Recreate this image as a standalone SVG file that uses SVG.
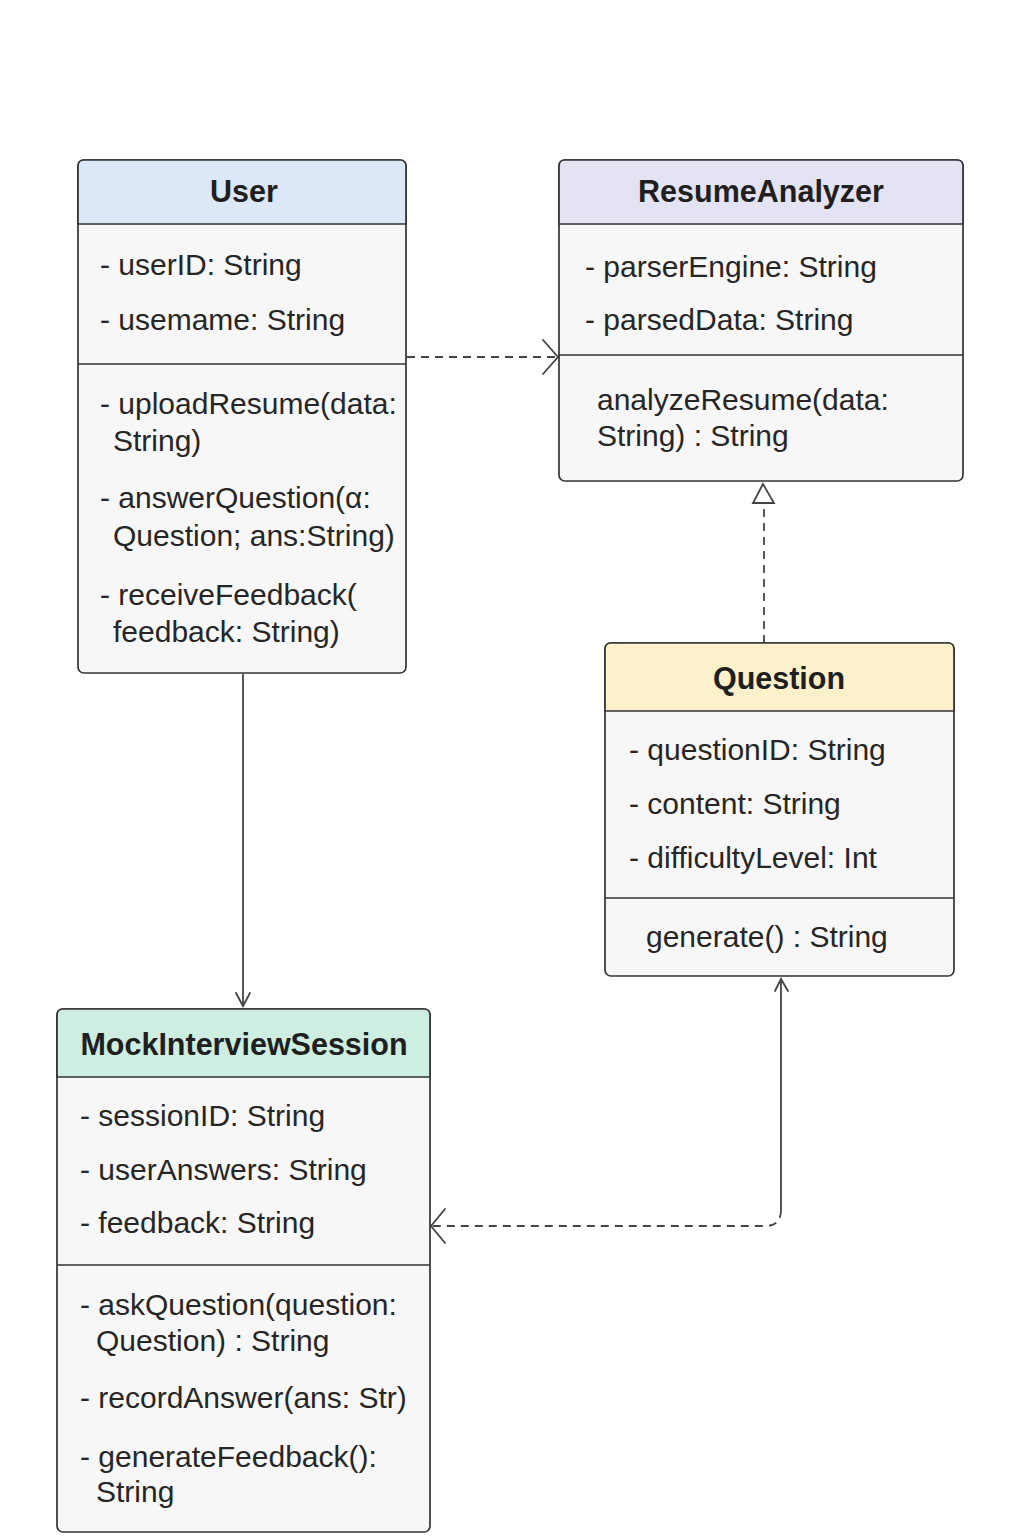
<svg xmlns="http://www.w3.org/2000/svg" width="1024" height="1536" viewBox="0 0 1024 1536">
<style>
.box{fill:#f7f7f7;stroke:#333;stroke-width:1.7}
.div{stroke:#333;stroke-width:1.6;fill:none}
.t{font-family:"Liberation Sans",Arial,sans-serif;font-size:30px;fill:#262626}
.h{font-family:"Liberation Sans",Arial,sans-serif;font-size:30.5px;font-weight:bold;fill:#1f1f1f;text-anchor:middle}
.ln{stroke:#444;stroke-width:1.8;fill:none}
.dash{stroke-dasharray:8 6}
.ah{stroke:#444;stroke-width:1.8;fill:none;stroke-linecap:round}
</style>
<rect width="1024" height="1536" fill="#ffffff"/>

<g id="connectors">
  <!-- User -> ResumeAnalyzer (dependency) -->
  <path class="ln dash" d="M407,357 H557"/>
  <path class="ah" d="M543,340 L558,357 L543,374"/>
  <!-- Question -> ResumeAnalyzer (realization) -->
  <path class="ln dash" d="M764,643 V504"/>
  <path d="M763,484 L753,503 L774,503 Z" fill="#ffffff" stroke="#444" stroke-width="1.8"/>
  <!-- User -> MockInterviewSession -->
  <path class="ln" d="M243,674 V1006"/>
  <path class="ah" d="M236,993 L243,1006 L250,993"/>
  <!-- MockInterviewSession <-> Question -->
  <path class="ln" d="M781,979 V1210"/>
  <path class="ah" d="M775,991 L781,979 L788,991"/>
  <path class="ln dash" d="M781,1210 Q781,1226 765,1226 H432"/>
  <path class="ah" d="M445,1209 L431,1226 L445,1243"/>
</g>

<g id="User">
  <rect class="box" x="78" y="160" width="328" height="513" rx="6"/>
  <path d="M84,160 H400 Q406,160 406,166 V224 H78 V166 Q78,160 84,160 Z" fill="#dce8f8" stroke="#333" stroke-width="1.7"/>
  <path class="div" d="M78,364 H406"/>
  <text class="h" x="244" y="202">User</text>
  <text class="t" x="100" y="275">- userID: String</text>
  <text class="t" x="100" y="330">- usemame: String</text>
  <text class="t" x="100" y="414">- uploadResume(data:</text>
  <text class="t" x="113" y="451">String)</text>
  <text class="t" x="100" y="508">- answerQuestion(α:</text>
  <text class="t" x="113" y="546">Question; ans:String)</text>
  <text class="t" x="100" y="605">- receiveFeedback(</text>
  <text class="t" x="113" y="642">feedback: String)</text>
</g>

<g id="ResumeAnalyzer">
  <rect class="box" x="559" y="160" width="404" height="321" rx="6"/>
  <path d="M565,160 H957 Q963,160 963,166 V224 H559 V166 Q559,160 565,160 Z" fill="#e4e3f3" stroke="#333" stroke-width="1.7"/>
  <path class="div" d="M559,355 H963"/>
  <text class="h" x="761" y="202">ResumeAnalyzer</text>
  <text class="t" x="585" y="277">- parserEngine: String</text>
  <text class="t" x="585" y="330">- parsedData: String</text>
  <text class="t" x="597" y="410">analyzeResume(data:</text>
  <text class="t" x="597" y="446">String) : String</text>
</g>

<g id="Question">
  <rect class="box" x="605" y="643" width="349" height="333" rx="6"/>
  <path d="M611,643 H948 Q954,643 954,649 V711 H605 V649 Q605,643 611,643 Z" fill="#fdf1cb" stroke="#333" stroke-width="1.7"/>
  <path class="div" d="M605,898 H954"/>
  <text class="h" x="779" y="689">Question</text>
  <text class="t" x="629" y="760">- questionID: String</text>
  <text class="t" x="629" y="814">- content: String</text>
  <text class="t" x="629" y="868">- difficultyLevel: Int</text>
  <text class="t" x="646" y="947">generate() : String</text>
</g>

<g id="MockInterviewSession">
  <rect class="box" x="57" y="1009" width="373" height="523" rx="6"/>
  <path d="M63,1009 H424 Q430,1009 430,1015 V1077 H57 V1015 Q57,1009 63,1009 Z" fill="#cdeee0" stroke="#333" stroke-width="1.7"/>
  <path class="div" d="M57,1265 H430"/>
  <text class="h" x="244" y="1055">MockInterviewSession</text>
  <text class="t" x="80" y="1126">- sessionID: String</text>
  <text class="t" x="80" y="1180">- userAnswers: String</text>
  <text class="t" x="80" y="1233">- feedback: String</text>
  <text class="t" x="80" y="1315">- askQuestion(question:</text>
  <text class="t" x="96" y="1351">Question) : String</text>
  <text class="t" x="80" y="1408">- recordAnswer(ans: Str)</text>
  <text class="t" x="80" y="1467">- generateFeedback():</text>
  <text class="t" x="96" y="1502">String</text>
</g>
</svg>
